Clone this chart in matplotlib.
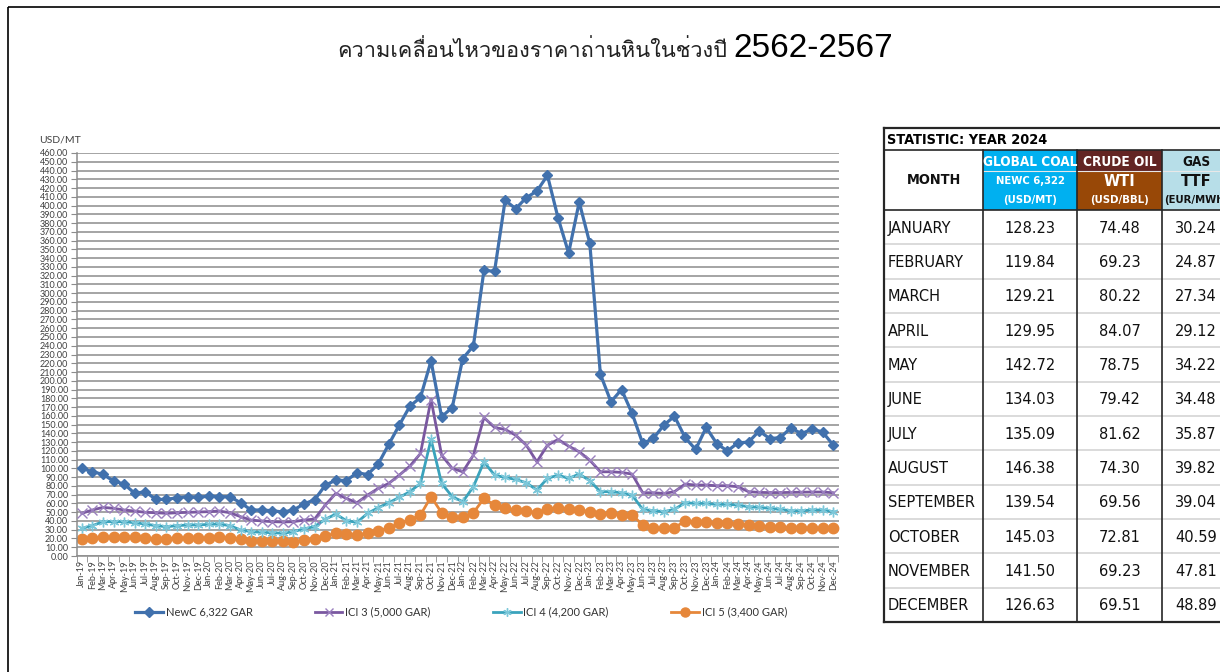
import matplotlib
matplotlib.use("Agg")
import matplotlib.pyplot as plt
from matplotlib import font_manager
from matplotlib.ft2font import FT2Font
from matplotlib.lines import Line2D
from matplotlib.patches import Rectangle

# ---------------- data ----------------
months = [f"{m}-{y}" for y in ["19", "20", "21", "22", "23", "24"]
          for m in ["Jan", "Feb", "Mar", "Apr", "May", "Jun",
                    "Jul", "Aug", "Sep", "Oct", "Nov", "Dec"]]

newc = [100.0, 96.2, 93.2, 85.6, 82.1, 71.5, 73.4, 64.6, 64.6, 66.5, 67.7, 66.9,
        68.4, 67.7, 67.7, 60.8, 52.5, 52.5, 51.7, 50.2, 52.5, 59.5, 64.2, 80.6,
        86.7, 86.0, 95.0, 93.0, 104.9, 127.3, 149.4, 171.0, 181.0, 222.7, 158.9, 169.5,
        225.4, 239.8, 326.0, 325.0, 406.0, 396.4, 409.0, 416.5, 434.4, 386.0, 345.8, 404.0,
        357.0, 207.5, 176.0, 190.0, 162.7, 128.5, 134.2, 149.4, 159.6, 135.3, 121.6, 146.7,
        128.23, 119.84, 129.21, 129.95, 142.72, 134.03, 135.09, 146.38, 139.54, 145.03, 141.50, 126.63]

ici3 = [48.7, 52.5, 55.5, 54.4, 52.5, 51.3, 49.8, 49.4, 48.7, 49.4, 49.8, 50.2,
        50.6, 51.3, 49.4, 44.9, 41.0, 40.0, 39.2, 38.8, 39.2, 41.0, 42.2, 58.0,
        71.4, 65.7, 60.8, 69.5, 77.1, 82.8, 92.3, 102.6, 117.0, 178.6, 115.1, 100.0,
        96.1, 115.1, 158.1, 146.7, 144.4, 137.9, 126.5, 107.5, 126.5, 133.0, 125.4, 119.0,
        109.4, 96.1, 96.1, 95.4, 93.5, 72.2, 72.2, 71.4, 73.4, 82.1, 81.0, 81.0,
        80.2, 80.2, 79.1, 73.4, 72.6, 72.4, 72.4, 72.6, 72.8, 73.0, 73.0, 72.2]

ici4 = [31.6, 34.6, 39.2, 39.2, 39.2, 38.0, 36.5, 34.6, 33.5, 34.6, 35.4, 35.4,
        36.1, 36.5, 34.6, 29.7, 27.8, 27.0, 26.6, 25.9, 27.8, 31.0, 33.5, 41.8,
        47.9, 40.3, 38.4, 48.6, 55.1, 60.8, 66.9, 73.4, 82.9, 133.0, 82.9, 67.7,
        62.0, 79.1, 107.5, 92.3, 89.7, 87.4, 83.6, 75.3, 88.6, 92.3, 88.6, 93.5,
        86.0, 73.4, 73.4, 72.2, 69.5, 53.2, 51.7, 50.6, 53.2, 60.8, 60.0, 60.0,
        58.9, 58.9, 58.2, 56.2, 55.5, 54.4, 53.2, 51.7, 51.7, 52.5, 52.5, 50.6]

ici5 = [19.0, 20.2, 21.3, 21.3, 22.0, 21.3, 20.9, 19.0, 19.0, 20.2, 20.2, 20.2,
        20.2, 21.3, 20.2, 19.0, 17.1, 17.1, 17.1, 17.1, 16.3, 18.3, 19.4, 22.8,
        25.9, 24.7, 24.0, 25.9, 28.9, 31.6, 37.3, 41.0, 46.8, 67.7, 49.4, 44.1,
        44.1, 49.4, 65.7, 58.2, 54.4, 52.5, 51.7, 49.4, 53.6, 54.4, 53.2, 52.5,
        50.6, 47.5, 49.4, 46.8, 46.8, 35.4, 31.6, 31.6, 32.3, 39.9, 39.2, 39.2,
        37.3, 37.3, 36.5, 35.4, 34.6, 33.5, 33.5, 32.3, 31.6, 31.6, 31.6, 31.6]

series_names = ["NewC 6,322 GAR", "ICI 3 (5,000 GAR)", "ICI 4 (4,200 GAR)", "ICI 5 (3,400 GAR)"]

table_months = ["JANUARY", "FEBRUARY", "MARCH", "APRIL", "MAY", "JUNE", "JULY",
                "AUGUST", "SEPTEMBER", "OCTOBER", "NOVEMBER", "DECEMBER"]
coal_2024 = ["128.23", "119.84", "129.21", "129.95", "142.72", "134.03",
             "135.09", "146.38", "139.54", "145.03", "141.50", "126.63"]
wti_2024 = ["74.48", "69.23", "80.22", "84.07", "78.75", "79.42",
            "81.62", "74.30", "69.56", "72.81", "69.23", "69.51"]
ttf_2024 = ["30.24", "24.87", "27.34", "29.12", "34.22", "34.48",
            "35.87", "39.82", "39.04", "40.59", "47.81", "48.89"]

title_th = "ความเคลื่อนไหวของราคาถ่านหินในช่วงปี"
title_num = "2562-2567"


def find_thai_font():
    # look for any installed font with Thai glyphs
    for f in font_manager.fontManager.ttflist:
        try:
            if 0x0E04 in FT2Font(f.fname).get_charmap():
                return f.name
        except Exception:
            pass
    return "DejaVu Sans"


def table_font():
    # Tahoma-like narrow face if there is one, else Liberation Sans made smaller
    for f in font_manager.fontManager.ttflist:
        if f.name == "Liberation Sans Narrow":
            return {"family": "Liberation Sans Narrow"}, 1.0
    for f in font_manager.fontManager.ttflist:
        if f.name == "DejaVu Sans" and f.stretch == "condensed":
            return {"family": "DejaVu Sans", "fontstretch": "condensed"}, 0.9
    return {"family": "Liberation Sans"}, 0.85


THAI = find_thai_font()
TF, TS = table_font()
plt.rcParams["font.family"] = ["Lato", "DejaVu Sans"]

W, H = 1220, 672
fig = plt.figure(figsize=(W / 100, H / 100), dpi=100)

# overlay axes in pixel coordinates for border, title and table
bg = fig.add_axes([0, 0, 1, 1])
bg.set_xlim(0, W)
bg.set_ylim(H, 0)
bg.axis("off")

bg.add_patch(Rectangle((8, 7), 1300, 700, fill=False, ec="black", lw=1.2))

# ---------------- chart ----------------
ax = fig.add_axes([76.5 / W, 1 - 556 / H, 762 / W, 403 / H])
ax.set_facecolor("none")
x = list(range(len(months)))

ax.plot(x, newc, color="#4171AD", lw=2.3, marker="D", ms=5.5, zorder=5)
ax.plot(x, ici3, color="#7A58A0", lw=2.0, marker="x", ms=6.5, mew=1.0,
        mec="#9A7FBE", zorder=4)
ax.plot(x, ici4, color="#3AA3BC", lw=2.0, marker=(6, 2, 0), ms=7, mew=1.0,
        mec="#7CC7D9", zorder=3)
ax.plot(x, ici5, color="#E6873A", lw=2.0, marker="o", ms=7.5, mec="#E6873A", zorder=2)

ax.set_xlim(-0.5, len(months) - 0.5)
ax.set_ylim(0, 460)
ax.set_yticks(range(0, 461, 10))
ax.set_yticklabels([f"{v:.2f}" for v in range(0, 461, 10)], fontsize=6.5, color="#404040")
ax.set_xticks(x)
ax.set_xticklabels(months, rotation=90, fontsize=6.5, color="#404040")
ax.set_xticks([i + 0.5 for i in range(-1, len(months))], minor=True)
ax.tick_params(axis="x", which="major", length=0, pad=3)
ax.tick_params(axis="x", which="minor", length=4, color="#8C8C8C")
ax.tick_params(axis="y", length=4, color="#8C8C8C", pad=2)
ax.grid(axis="y", color="#8C8C8C", lw=1.1)
ax.set_axisbelow(True)
for s in ["top", "right"]:
    ax.spines[s].set_visible(False)
for s in ["left", "bottom"]:
    ax.spines[s].set_color("#8C8C8C")
    ax.spines[s].set_linewidth(1.1)

bg.text(39, 140, "USD/MT", fontsize=7.5, color="#404040", va="center", ha="left")

handles = [
    Line2D([], [], color="#4171AD", lw=2.3, marker="D", ms=5),
    Line2D([], [], color="#7A58A0", lw=2.0, marker="x", ms=6, mec="#9A7FBE"),
    Line2D([], [], color="#3AA3BC", lw=2.0, marker=(6, 2, 0), ms=6, mec="#7CC7D9"),
    Line2D([], [], color="#E6873A", lw=2.0, marker="o", ms=6.5),
]
fig.legend(handles, series_names, loc="center", bbox_to_anchor=(461 / W, 1 - 612 / H),
           ncol=4, frameon=False, fontsize=8, handlelength=2.5, handletextpad=0.25,
           columnspacing=5.6, labelcolor="#333333")

# ---------------- title ----------------
bg.text(733, 57, title_num, fontsize=24, family=["Liberation Sans", "DejaVu Sans"],
        ha="left", va="baseline", color="black")
th = bg.text(727, 57, title_th, fontsize=20, family=[THAI, "DejaVu Sans"],
             ha="right", va="baseline", color="#222222")
fig.canvas.draw()
tw = th.get_window_extent().width
if tw > 0:
    th.set_fontsize(20 * 390 / tw)

# ---------------- table ----------------
cols = [884, 983, 1077, 1162, 1240]
y_top, y_head, y_sub, y_body, y_bot = 128, 150, 171, 210, 622
row_h = (y_bot - y_body) / len(table_months)

head_bg = ["#00B0F0", "#632523", "#B7DEE8"]
sub_bg = ["#00B0F0", "#984807", "#B7DEE8"]
for i in range(3):
    bg.add_patch(Rectangle((cols[i + 1], y_head), cols[i + 2] - cols[i + 1], y_sub - y_head,
                           fc=head_bg[i], ec="none"))
    bg.add_patch(Rectangle((cols[i + 1], y_sub), cols[i + 2] - cols[i + 1], y_body - y_sub,
                           fc=sub_bg[i], ec="none"))

dark = "#262626"
for k in range(1, len(table_months)):
    yy = y_body + k * row_h
    bg.plot([cols[0], cols[-1]], [yy, yy], color="#D4D4D4", lw=1.2, clip_on=False)
bg.plot([cols[1], cols[-1]], [y_sub, y_sub], color="#E8E8E8", lw=0.8)
bg.plot([cols[0], cols[-1]], [y_top, y_top], color=dark, lw=1.6)
bg.plot([cols[0], cols[-1]], [y_head, y_head], color=dark, lw=1.2)
bg.plot([cols[0], cols[-1]], [y_body, y_body], color=dark, lw=1.2)
bg.plot([cols[0], cols[-1]], [y_bot, y_bot], color=dark, lw=1.6)
bg.plot([cols[0], cols[0]], [y_top, y_bot], color=dark, lw=1.6)
for cx in cols[1:4]:
    bg.plot([cx, cx], [y_head, y_bot], color=dark, lw=1.2)

bg.text(887, (y_top + y_head) / 2 + 1, "STATISTIC: YEAR 2024", fontsize=11.5 * TS,
        fontweight="bold", va="center", ha="left", color="black", **TF)
bg.text((cols[0] + cols[1]) / 2, (y_head + y_body) / 2, "MONTH", fontsize=11.5 * TS,
        fontweight="bold", va="center", ha="center", color="#111111", **TF)

centers = [(cols[1] + cols[2]) / 2, (cols[2] + cols[3]) / 2, 1196]
head_txt = ["GLOBAL COAL", "CRUDE OIL", "GAS"]
sub_txt = ["NEWC 6,322", "WTI", "TTF"]
unit_txt = ["(USD/MT)", "(USD/BBL)", "(EUR/MWh)"]
txt_col = ["white", "white", "#111111"]
sub_size = [9, 13, 13]
for i in range(3):
    bg.text(centers[i], (y_head + y_sub) / 2 + 1, head_txt[i], fontsize=10.8 * TS,
            fontweight="bold", ha="center", va="center", color=txt_col[i], **TF)
    bg.text(centers[i], 181, sub_txt[i], fontsize=sub_size[i] * TS, fontweight="bold",
            ha="center", va="center", color=txt_col[i], **TF)
    bg.text(centers[i], 200, unit_txt[i], fontsize=9 * TS, fontweight="bold",
            ha="center", va="center", color=txt_col[i], **TF)

for k, name in enumerate(table_months):
    yc = y_body + (k + 0.5) * row_h + 1
    bg.text(888, yc, name, fontsize=13 * TS, va="center", ha="left", color="#111111", **TF)
    for i, vals in enumerate([coal_2024, wti_2024, ttf_2024]):
        bg.text(centers[i], yc, vals[k], fontsize=13 * TS,
                va="center", ha="center", color="#111111", **TF)

fig.savefig("out.png", dpi=100)
